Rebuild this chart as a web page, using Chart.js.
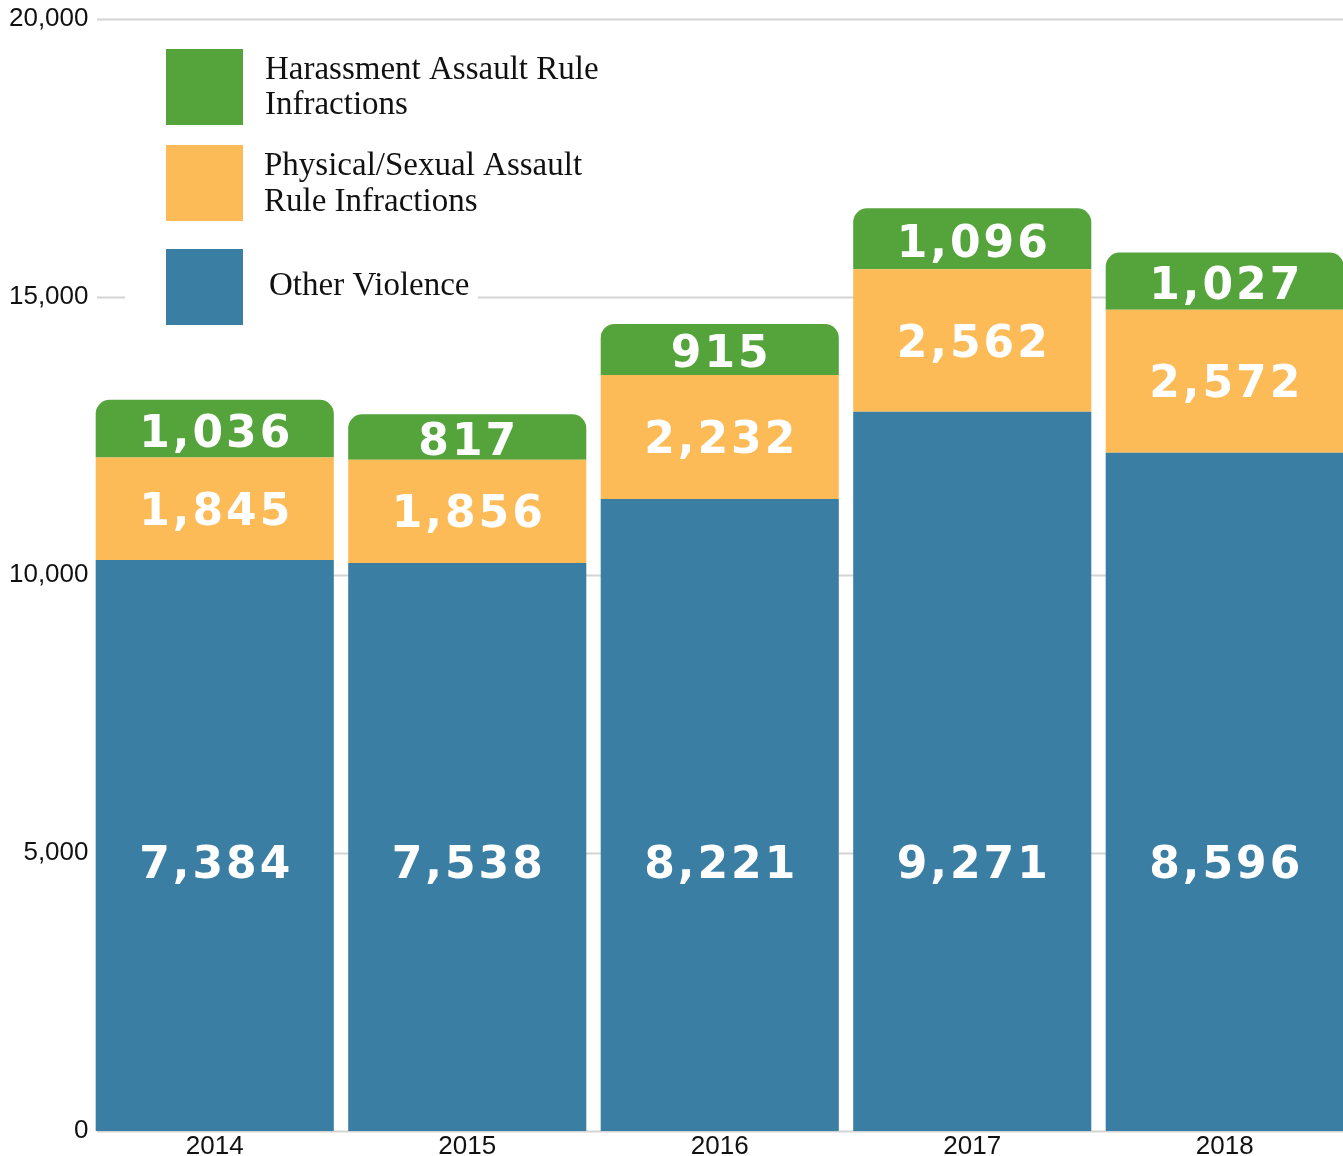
<!DOCTYPE html>
<html lang="en">
<head>
    <meta charset="UTF-8">
    <title>Violence and Assault Rule Infractions</title>
    <script src="https://cdn.jsdelivr.net/npm/chart.js"></script>
    <style>
        html, body { margin: 0; padding: 0; background: #fff; overflow: hidden; }
        .chart-box { position: relative; width: 1351px; height: 1156px; }
    </style>
</head>
<body>
    <div class="chart-box">
        <canvas id="infractionsChart"></canvas>
    </div>

    <script>
        const years = ['2014', '2015', '2016', '2017', '2018'];
        // bar heights as drawn in the picture
        const otherViolence = [10270, 10216, 11367, 12937, 12200];
        // numbers printed on the blue segments
        const otherViolenceLabels = ['7,384', '7,538', '8,221', '9,271', '8,596'];
        const physicalSexual = [1845, 1856, 2232, 2562, 2572];
        const harassment = [1036, 817, 915, 1096, 1027];
        const yTicks = [0, 5000, 10000, 15000, 20000];

        const GREEN = '#54a43b';
        const ORANGE = '#fdbb58';
        const BLUE = '#3b7ea3';

        const fmt = v => v.toLocaleString('en-US');

        // gridlines start a bit right of the axis, legend sits on a white box
        const backdrop = {
            id: 'backdrop',
            beforeDatasetsDraw(chart) {
                const ctx = chart.ctx;
                const y = chart.scales.y;
                ctx.save();
                ctx.strokeStyle = '#d4d4d4';
                ctx.lineWidth = 2;
                yTicks.forEach(v => {
                    const py = Math.round(y.getPixelForValue(v)) + 0.5;
                    ctx.beginPath();
                    ctx.moveTo(97, py);
                    ctx.lineTo(chart.chartArea.right, py);
                    ctx.stroke();
                });

                ctx.fillStyle = '#fff';
                ctx.fillRect(125, 35, 353, 300);

                const items = [
                    { color: GREEN, top: 49, x: 265, lines: ['Harassment Assault Rule', 'Infractions'], base: [79, 114] },
                    { color: ORANGE, top: 145, x: 264, lines: ['Physical/Sexual Assault', 'Rule Infractions'], base: [175, 211] },
                    { color: BLUE, top: 249, x: 269, lines: ['Other Violence'], base: [295] }
                ];
                ctx.font = '33px "Liberation Serif"';
                ctx.textAlign = 'left';
                ctx.textBaseline = 'alphabetic';
                items.forEach(it => {
                    ctx.fillStyle = it.color;
                    ctx.fillRect(166, it.top, 77, 76);
                    ctx.fillStyle = '#111';
                    it.lines.forEach((t, k) => ctx.fillText(t, it.x, it.base[k]));
                });
                ctx.restore();
            }
        };

        const valueLabels = {
            id: 'valueLabels',
            afterDatasetsDraw(chart) {
                const ctx = chart.ctx;
                const y = chart.scales.y;
                const size = 44;
                const spacing = 3;
                ctx.save();
                ctx.font = `bold ${size}px "DejaVu Sans"`;
                ctx.letterSpacing = spacing + 'px';
                ctx.fillStyle = '#fff';
                ctx.textAlign = 'center';
                ctx.textBaseline = 'alphabetic';
                const half = size * 0.729 / 2;
                const put = (text, x, cy) => ctx.fillText(text, x + spacing / 2, cy + half);

                years.forEach((yr, i) => {
                    const blue = chart.getDatasetMeta(0).data[i];
                    const orange = chart.getDatasetMeta(1).data[i];
                    const green = chart.getDatasetMeta(2).data[i];
                    put(otherViolenceLabels[i], blue.x, y.getPixelForValue(4840));
                    put(fmt(physicalSexual[i]), orange.x, (orange.y + orange.base) / 2);
                    put(fmt(harassment[i]), green.x, (green.y + green.base) / 2 + 2);
                });
                ctx.restore();
            }
        };

        const tickFont = { family: '"Liberation Sans", Arial, sans-serif', size: 26 };

        new Chart(document.getElementById('infractionsChart'), {
            type: 'bar',
            data: {
                labels: years,
                datasets: [
                    { label: 'Other Violence', data: otherViolence, backgroundColor: BLUE },
                    { label: 'Physical/Sexual Assault Rule Infractions', data: physicalSexual, backgroundColor: ORANGE },
                    {
                        label: 'Harassment Assault Rule Infractions', data: harassment, backgroundColor: GREEN,
                        borderRadius: { topLeft: 14, topRight: 14, bottomLeft: 0, bottomRight: 0 }
                    }
                ]
            },
            options: {
                responsive: true,
                maintainAspectRatio: false,
                animation: false,
                barPercentage: 0.943,
                categoryPercentage: 1,
                layout: { padding: { top: 19, left: 0, right: 0, bottom: 0 } },
                plugins: {
                    legend: { display: false },
                    tooltip: { enabled: false }
                },
                scales: {
                    x: {
                        stacked: true,
                        grid: { display: false, drawTicks: false },
                        border: { display: false },
                        ticks: { font: tickFont, color: '#111', padding: 0, maxRotation: 0 },
                        afterFit: s => { s.height = 25; }
                    },
                    y: {
                        stacked: true,
                        min: 0,
                        max: 20000,
                        grid: { display: false, drawTicks: false },
                        border: { display: false },
                        afterBuildTicks: s => { s.ticks = yTicks.map(v => ({ value: v })); },
                        ticks: { font: tickFont, color: '#111', padding: 0, callback: v => fmt(v) },
                        afterFit: s => { s.width = 88.5; }
                    }
                }
            },
            plugins: [backdrop, valueLabels]
        });
    </script>
</body>
</html>
